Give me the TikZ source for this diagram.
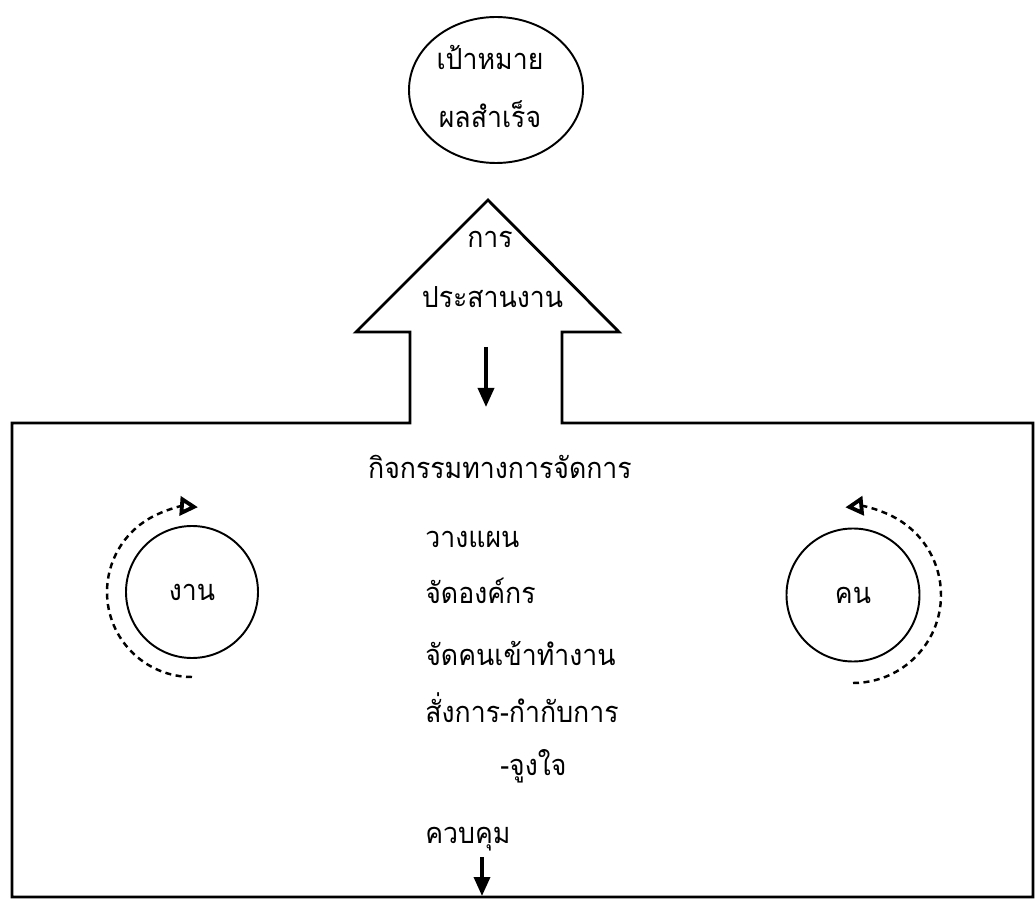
\documentclass[tikz,border=0pt]{standalone}
\usepackage{fontspec}
\newfontfamily\thaifont[Script=Thai, FakeStretch=0.92]{Loma}
\usetikzlibrary{arrows.meta,shapes.geometric}
\tikzset{
	thaitxt/.style={font=\thaifont\fontsize{16.5}{19}\selectfont, inner sep=0pt},
	roundnode/.style={draw, circle, line width=1.1pt, minimum size=2.64cm, thaitxt},
	turnarc/.style={line width=1.4pt, dash pattern=on 0.12cm off 0.09cm, -{Triangle[open, length=0.36cm, width=0.38cm, line width=2.2pt]}},
	downline/.style={line width=2pt, -{Triangle[length=0.38cm, width=0.32cm]}}
}

\begin{document}
\begin{tikzpicture}
		%%%%% START %%%%%
		
		\useasboundingbox (0, 0) rectangle (20.72, 18);
		
		% goal
		\node[draw, ellipse, line width=1.1pt, minimum width=3.48cm, minimum height=2.92cm] (goal) at (9.92, 16.2) {};
		\node[thaitxt, anchor=base] (goaltop) at (9.8, 16.6) {เป้าหมาย};
		\node[thaitxt, anchor=base] (goalbot) at (9.8, 15.44) {ผลสำเร็จ};
		
		% big arrow and frame
		\draw[line width=1.6pt, line join=miter] (0.24, 9.54) -- (8.2, 9.54) -- (8.2, 11.36) -- (7.12, 11.36) -- (9.76, 14.0) -- (12.38, 11.36) -- (11.24, 11.36) -- (11.24, 9.54) -- (20.66, 9.54) -- (20.66, 0.06) -- (0.24, 0.06) -- cycle;
		\node[thaitxt, anchor=base] (coord1) at (9.8, 13.04) {การ};
		\node[thaitxt, anchor=base] (coord2) at (9.85, 11.84) {ประสานงาน};
		
		\coordinate (shafttop) at (9.72, 11.06);
		\coordinate (shaftend) at (9.72, 9.86);
		\draw[downline] (shafttop) -- (shaftend);
		
		% activities
		\node[thaitxt, anchor=base] (acts) at (10.0, 8.44) {กิจกรรมทางการจัดการ};
		\node[thaitxt, anchor=base west] (plan) at (8.5, 7.06) {วางแผน};
		\node[thaitxt, anchor=base west] (org) at (8.5, 5.94) {จัดองค์กร};
		\node[thaitxt, anchor=base west] (staff) at (8.5, 4.7) {จัดคนเข้าทำงาน};
		\node[thaitxt, anchor=base west] (direct) at (8.5, 3.56) {สั่งการ-กำกับการ};
		\node[thaitxt, anchor=base west] (motiv) at (10.0, 2.5) {-จูงใจ};
		\node[thaitxt, anchor=base west] (control) at (8.5, 1.14) {ควบคุม};
		
		\coordinate (outtop) at (9.64, 0.86);
		\coordinate (outend) at (9.64, 0.08);
		\draw[downline] (outtop) -- (outend);
		
		% work and people
		\node[roundnode] (work) at (3.84, 6.16) {งาน};
		\node[roundnode, minimum size=2.66cm] (people) at (17.06, 6.1) {คน};
		
		\draw[turnarc] (work.center) ++(270:1.7) arc[start angle=270, end angle=86, radius=1.7];
		\draw[turnarc] (people.center) ++(-90:1.76) arc[start angle=-90, end angle=95, radius=1.76];
		
		%%%%% END %%%%%
\end{tikzpicture}
\end{document}
